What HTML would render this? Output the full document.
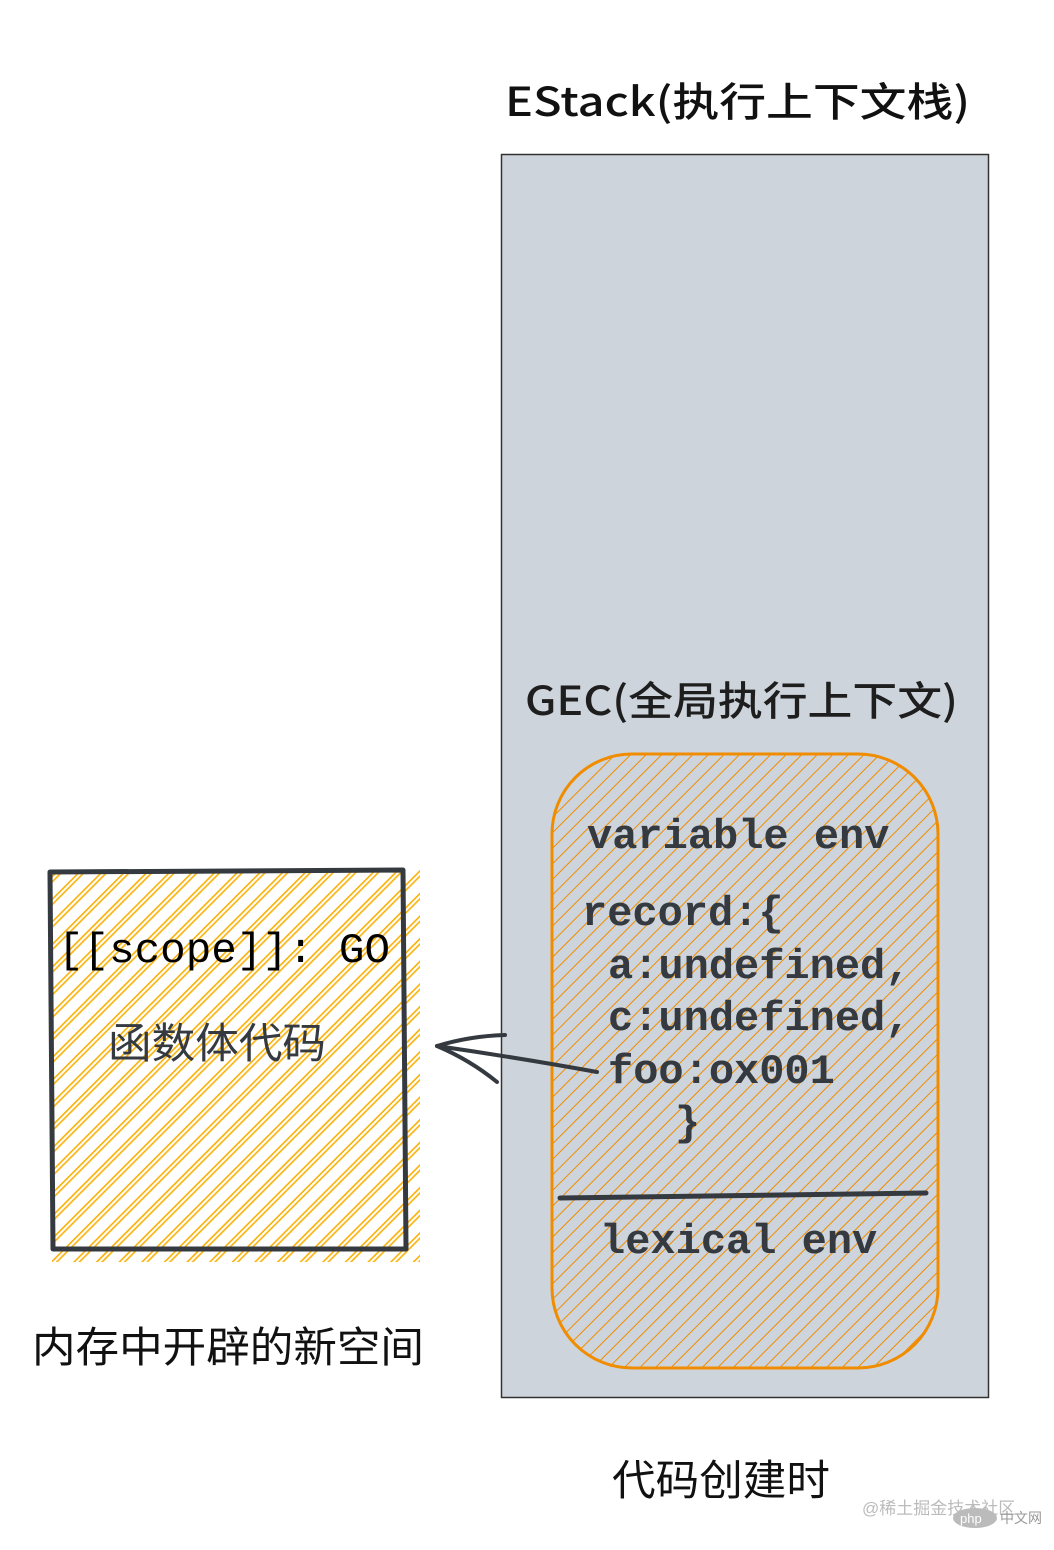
<!DOCTYPE html>
<html><head><meta charset="utf-8"><style>
html,body{margin:0;padding:0;background:#fff;}
svg{display:block;}
.cjk{font-family:"Liberation Sans","Noto Sans CJK SC",sans-serif;}
.noto{font-family:"Noto Sans CJK SC","Liberation Sans",sans-serif;}
.mono{font-family:"Liberation Mono","DejaVu Sans Mono",monospace;}
</style></head><body>
<svg width="1054" height="1550" viewBox="0 0 1054 1550" xmlns="http://www.w3.org/2000/svg">
<defs>
<pattern id="ho" width="11" height="11" patternUnits="userSpaceOnUse" patternTransform="rotate(45)">
<line x1="0" y1="0" x2="0" y2="11" stroke="#f08c00" stroke-width="2"/>
</pattern>
<pattern id="hy" width="16" height="16" patternUnits="userSpaceOnUse" patternTransform="rotate(45)">
<line x1="0" y1="0" x2="0" y2="16" stroke="#fab005" stroke-width="3.2"/>
<line x1="4.5" y1="0" x2="4.5" y2="16" stroke="#fab005" stroke-width="1.6"/>
</pattern>
</defs>
<text x="505" y="116" class="noto" font-size="40" font-weight="500" fill="#111" textLength="465" lengthAdjust="spacingAndGlyphs">EStack(执行上下文栈)</text>
<rect x="501.5" y="154.5" width="487" height="1243" fill="#ced4db" stroke="#333" stroke-width="1.5"/>
<text x="525" y="715" class="noto" font-size="40" font-weight="500" fill="#1e1e1e" textLength="433" lengthAdjust="spacingAndGlyphs">GEC(全局执行上下文)</text>
<rect x="552" y="754" width="386" height="614" rx="80" fill="url(#ho)" stroke="#f08c00" stroke-width="3"/>
<g class="mono" font-size="42" font-weight="bold" fill="#343a40">
<text x="587" y="848">variable env</text>
<text x="582" y="925">record:{</text>
<text x="608" y="978">a:undefined,</text>
<text x="608" y="1030">c:undefined,</text>
<text x="608" y="1083">foo:ox001</text>
<text x="675" y="1135">}</text>
<text x="600" y="1253">lexical env</text>
</g>
<path d="M560 1198 L926 1193" stroke="#343a40" stroke-width="5" stroke-linecap="round"/>
<rect x="52" y="870" width="368" height="392" fill="url(#hy)"/>
<path d="M50 872 L403 870 L406 1249 L53 1249 Z" fill="none" stroke="#343a40" stroke-width="5" stroke-linejoin="round"/>
<text x="58" y="962" class="mono" font-size="42" fill="#000" textLength="332" lengthAdjust="spacingAndGlyphs">[[scope]]: GO</text>
<text x="108" y="1058" class="cjk" font-size="42" fill="#343a40" textLength="218" lengthAdjust="spacingAndGlyphs">函数体代码</text>
<path d="M597 1072 Q520 1058 437 1046" fill="none" stroke="#343a40" stroke-width="4" stroke-linecap="round"/>
<path d="M437 1046 Q470 1036 505 1035 M437 1046 Q470 1060 497 1082" fill="none" stroke="#343a40" stroke-width="4" stroke-linecap="round"/>
<text x="32" y="1362" class="cjk" font-size="42" fill="#111" textLength="392" lengthAdjust="spacingAndGlyphs">内存中开辟的新空间</text>
<text x="612" y="1495" class="cjk" font-size="42" fill="#111" textLength="218" lengthAdjust="spacingAndGlyphs">代码创建时</text>
<text x="862" y="1514" class="cjk" font-size="17" fill="#bbb">@稀土掘金技术社区</text>
<ellipse cx="975" cy="1518" rx="22" ry="10" fill="#bbb"/>
<text x="960" y="1523" font-family="Liberation Sans,sans-serif" font-size="13" fill="#fff">php</text>
<text x="1000" y="1523" class="cjk" font-size="14" fill="#999">中文网</text>
</svg>
</body></html>
